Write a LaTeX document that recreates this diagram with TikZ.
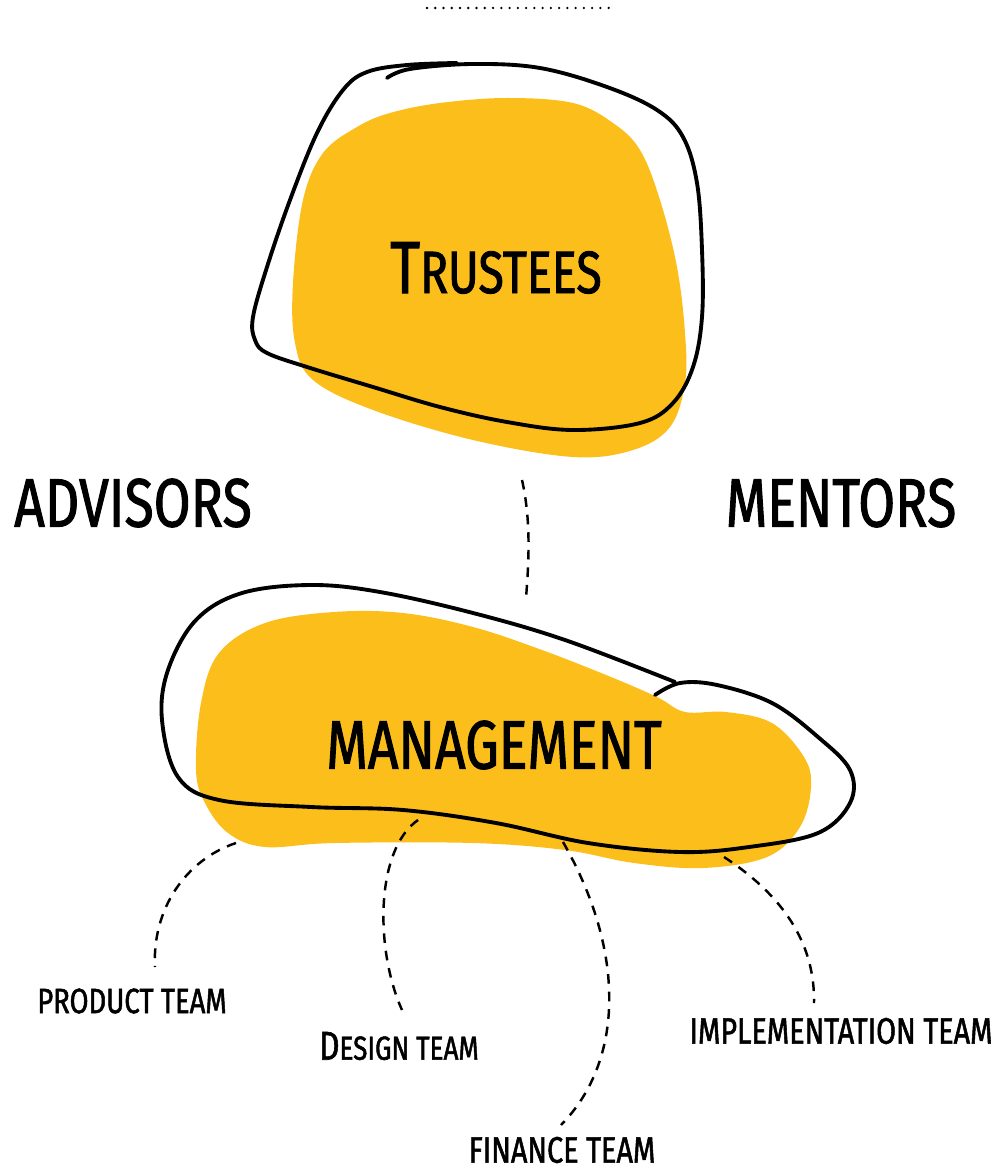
\documentclass[tikz,border=0pt]{standalone}
\usepackage{fontspec}
\setmainfont{Fira Sans}[FakeStretch=0.78,FakeBold=1.4]
\usepackage{tikz}
\definecolor{blobyellow}{HTML}{FBBE1B}
\newcommand{\fakesc}[4]{{\fontsize{#1}{#1}\selectfont #3}{\fontsize{#2}{#2}\selectfont #4}}

\begin{document}
\begin{tikzpicture}[x=0.02cm,y=-0.02cm,
    blob/.style={fill=blobyellow,draw=none},
    outline/.style={draw=black,line width=2.2pt,line cap=round},
    link/.style={line width=1.4pt,dash pattern=on 5.5pt off 4.5pt},
    bigword/.style={font=\fontsize{39}{40}\selectfont,inner sep=0pt},
    teamword/.style={font=\fontsize{21}{22}\selectfont,inner sep=0pt}]
        \useasboundingbox (0,0) rectangle (1005,1172);
        \draw[line width=1.5pt,line cap=round,dash pattern=on 0pt off 4.7pt] (427,8)--(610,8);
        % trustees blob
        \fill[blob] plot[smooth cycle,tension=0.6] coordinates {(440,103) (507,98) (573,103) (613,123) (640,150) (660,200) (677,267) (685,333) (685,383) (670,427) (633,450) (573,457) (473,440) (373,410) (313,380) (295,343) (293,283) (303,200) (323,153) (357,127) (390,113)};
        \draw[outline] plot[smooth,tension=0.6] coordinates {(387,78) (410,69) (473,64) (540,68) (607,87) (657,110) (683,137) (697,183) (702,250) (702,317) (693,367) (673,403) (640,423) (573,430) (507,422) (440,407) (373,387) (307,367) (267,353) (255,340) (253,317) (267,267) (290,200) (317,133) (343,90) (367,72) (407,65) (457,63)};
        % management blob
        \fill[blob] plot[smooth cycle,tension=0.6] coordinates {(196,770) (201,703) (219,653) (265,623) (334,612) (403,613) (473,627) (542,650) (611,677) (657,697) (685,712) (726,712) (772,723) (804,757) (811,787) (800,827) (767,857) (703,868) (634,863) (565,850) (473,843) (334,843) (265,847) (228,833) (205,803)};
        \draw[outline] plot[smooth,tension=0.6] coordinates {(655,695) (680,683) (717,685) (772,703) (818,737) (850,770) (850,803) (818,833) (749,847) (680,852) (588,843) (496,823) (403,810) (311,807) (219,800) (178,777) (162,720) (168,670) (196,620) (242,593) (311,585) (380,592) (473,613) (565,640) (675,682)};

        \node[bigword] (trustees) at (496,268) {\fakesc{42}{34}{T}{RUSTEES}};
        \node[bigword] (mgmt) at (494,745) {MANAGEMENT};
        \node[bigword] (advisors) at (133,503) {ADVISORS};
        \node[bigword] (mentors) at (841,503) {MENTORS};
        \node[teamword] (product) at (132,1001) {\fontsize{20}{21}\selectfont PRODUCT TEAM};
        \node[teamword] (design) at (399,1046) {\fakesc{23}{19}{D}{ESIGN TEAM}};
        \node[teamword] (finance) at (562,1150) {FINANCE TEAM};
        \node[teamword] (impl) at (841,1031) {IMPLEMENTATION TEAM};

        \coordinate (trustees-foot) at (522,480);
        \coordinate (mgmt-top) at (526,598);
        \foreach \n/\x/\y in {product/236/843,design/418/820,finance/563/842,impl/724/857}
        {
            \coordinate (\n-root) at (\x,\y);
        }
        \coordinate (product-tip) at (155,967);
        \coordinate (design-tip) at (402,1010);
        \coordinate (finance-tip) at (561,1125);
        \coordinate (impl-tip) at (814,1003);

        \draw[link] (trustees-foot) .. controls (531,520) and (529,560) .. (mgmt-top);
        \draw[link] (product-root) .. controls (185,860) and (152,910) .. (product-tip);
        \draw[link] (design-root) .. controls (375,850) and (375,950) .. (design-tip);
        \draw[link] (finance-root) .. controls (625,950) and (625,1060) .. (finance-tip);
        \draw[link] (impl-root) .. controls (790,900) and (815,950) .. (impl-tip);
    \end{tikzpicture}
\end{document}
